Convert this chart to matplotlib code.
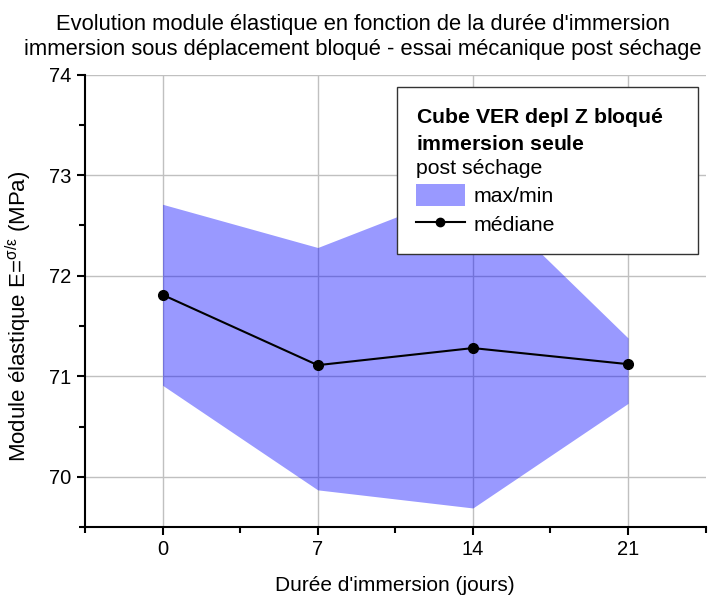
import numpy as np
import matplotlib
matplotlib.use("Agg")
import matplotlib.pyplot as plt
from matplotlib.patches import Patch
from matplotlib.lines import Line2D
from matplotlib.ticker import MultipleLocator

plt.rcParams["font.family"] = ["Liberation Sans", "DejaVu Sans"]
plt.rcParams["mathtext.fontset"] = "custom"
plt.rcParams["mathtext.rm"] = "Liberation Sans"
plt.rcParams["mathtext.bf"] = "Liberation Sans:bold"
plt.rcParams["mathtext.it"] = "Liberation Sans:italic"

# data
days = [0, 7, 14, 21]
e_median = [71.81, 71.11, 71.28, 71.12]
e_max = [72.71, 72.28, 72.88, 71.38]
e_min = [70.91, 69.87, 69.69, 70.73]

fig = plt.figure(figsize=(7.26, 6.01), dpi=100)
ax = fig.add_axes([0.117, 0.123, 0.855, 0.753])

ax.fill_between(days, e_min, e_max, color="#0000ff", alpha=0.4,
                linewidth=0, zorder=2)
ax.plot(days, e_median, color="black", linewidth=1.5, marker="o",
        markersize=7, zorder=3)

ax.set_xlim(-3.5, 24.5)
ax.set_ylim(69.5, 74)
ax.set_xticks(days)
ax.xaxis.set_minor_locator(MultipleLocator(3.5))
ax.yaxis.set_major_locator(MultipleLocator(1))
ax.yaxis.set_minor_locator(MultipleLocator(0.5))
ax.grid(True, which="major", color="#c0c0c0", linewidth=1, zorder=1)
ax.set_axisbelow(True)

for side in ["top", "right"]:
    ax.spines[side].set_visible(False)
for side in ["left", "bottom"]:
    ax.spines[side].set_linewidth(1.5)

ax.tick_params(which="major", direction="out", length=6, width=1.5,
               labelsize=14.5, colors="black")
ax.tick_params(which="minor", direction="out", length=4, width=1.5)

ax.set_xlabel("Durée d'immersion (jours)", fontsize=15, labelpad=12)
ax.set_ylabel(r"Module élastique E=$\mathregular{^{σ/ε}}$ (MPa)",
              fontsize=16)
ax.yaxis.set_label_coords(-0.082, 0.465)

# two-line title
fig.text(0.5, 1 - 30 / 601,
         "Evolution module élastique en fonction de la durée d'immersion",
         ha="center", va="baseline", fontsize=15.8)
fig.text(0.5, 1 - 55 / 601,
         "immersion sous déplacement bloqué - essai mécanique post séchage",
         ha="center", va="baseline", fontsize=15.8)

handles = [Patch(facecolor="#0000ff", alpha=0.4, edgecolor="none"),
           Line2D([], [], color="black", linewidth=1.5, marker="o",
                  markersize=6)]
title = (r"$\mathbf{Cube\ VER\ depl\ Z\ bloqué}$"
         + "\n" + r"$\mathbf{immersion\ seule}$" + "\npost séchage")
# expand mode fixes the frame width to the anchor box
leg = ax.legend(handles, ["max/min", "médiane"], title=title,
                loc="upper right", bbox_to_anchor=(0.5024, 0.5, 0.4847, 0.472),
                mode="expand", borderaxespad=0, fontsize=15.3,
                title_fontsize=15.3, fancybox=False, framealpha=1,
                edgecolor="#333333", alignment="left", handlelength=2.3,
                handletextpad=0.42, handleheight=1.2, labelspacing=0.3,
                borderpad=0.9)
leg.get_title().set_multialignment("left")
leg.get_title().set_linespacing(1.35)
leg.get_frame().set_linewidth(1)
leg.set_zorder(5)

fig.savefig("out.png", dpi=100)
